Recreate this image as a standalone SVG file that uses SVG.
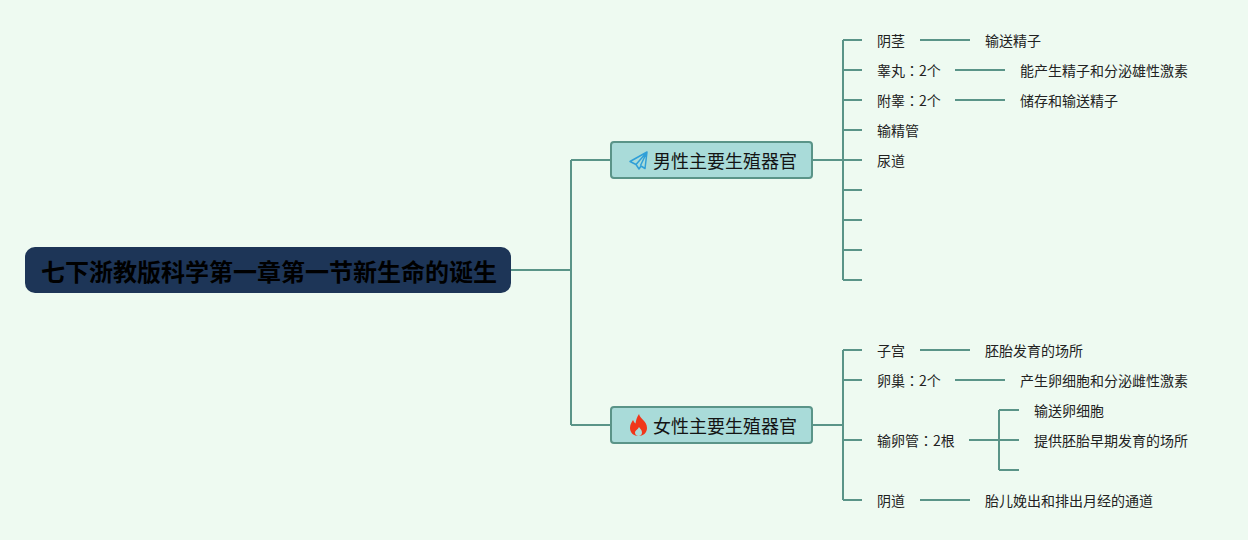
<svg xmlns="http://www.w3.org/2000/svg" width="1248" height="540" viewBox="0 0 1248 540">
<style>
text{font-family:"Noto Sans CJK SC","Liberation Sans",sans-serif;fill:#222}
.l{font-size:14px}
.m{font-size:18px;fill:#141414}
.r{font-size:24px;font-weight:700;fill:#000}
.k{font-family:"Noto Sans CJK TC",sans-serif}
.c{fill:none;stroke:#5a9488;stroke-width:2}
.b{fill:#a9dbd9;stroke:#5a9488;stroke-width:2}
</style>
<rect width="1248" height="540" fill="#eefaf1"/>
<g id="connectors">
<path class="c" d="M511 270H571M571 160V425M571 160H611M571 425H611"/>
<path class="c" d="M812 160H862M843 40V280M843 40H862M843 70H862M843 100H862M843 130H862M843 190H862M843 220H862M843 250H862M843 280H862"/>
<path class="c" d="M920 40H970M955 70H1005M955 100H1005"/>
<path class="c" d="M812 425H843M843 350V500M843 350H862M843 380H862M843 440H862M843 500H862"/>
<path class="c" d="M920 350H970M955 380H1005M969 440H1019M999 410V470M999 410H1019M999 470H1019M920 500H970"/>
</g>
<g id="root"><rect x="25" y="247" width="486" height="46" rx="10" fill="#1d3557"/><text class="r" x="41" y="281">七下浙教版科学第一章第一节新生命的诞生</text></g>
<g id="male"><rect class="b" x="611" y="142" width="201" height="36" rx="3"/>
<path d="M647 152L630 161.500L636 164.500L639 169L641 166L645 168.500Z M636 164.500L647 152L640.500 165.500" fill="none" stroke="#2f9fd8" stroke-width="1.500" stroke-linejoin="round"/>
<text class="m" x="653" y="168">男性主要生殖器官</text></g>
<g id="female"><rect class="b" x="611" y="407" width="201" height="36" rx="3"/>
<path d="M639 414C640 419 647 421 647 428C647 433 643 436 638.500 436C634 436 630 433 630 428C630 424 632 422 633 420C634 422 634.500 423 635.500 423.500C636 420 637 417 639 414Z" fill="#f0361a"/>
<path d="M639 427C640 429 642 430 642 432.500C642 434.500 640.500 436 638.500 436C636.500 436 635 434.500 635 432.500C635 430.500 638 429.500 639 427Z" fill="#a9dbd9"/>
<text class="m" x="653" y="433">女性主要生殖器官</text></g>
<g id="n1"><text class="l" x="877" y="46">阴茎</text></g>
<g id="n1a"><text class="l" x="985" y="46">输送精子</text></g>
<g id="n2"><text class="l" x="877" y="76">睾丸<tspan class="k">：</tspan>2个</text></g>
<g id="n2a"><text class="l" x="1020" y="76">能产生精子和分泌雄性激素</text></g>
<g id="n3"><text class="l" x="877" y="106">附睾<tspan class="k">：</tspan>2个</text></g>
<g id="n3a"><text class="l" x="1020" y="106">储存和输送精子</text></g>
<g id="n4"><text class="l" x="877" y="136">输精管</text></g>
<g id="n5"><text class="l" x="877" y="166">尿道</text></g>
<g id="f1"><text class="l" x="877" y="356">子宫</text></g>
<g id="f1a"><text class="l" x="985" y="356">胚胎发育的场所</text></g>
<g id="f2"><text class="l" x="877" y="386">卵巢<tspan class="k">：</tspan>2个</text></g>
<g id="f2a"><text class="l" x="1020" y="386">产生卵细胞和分泌雌性激素</text></g>
<g id="f3"><text class="l" x="877" y="446">输卵管<tspan class="k">：</tspan>2根</text></g>
<g id="f3a"><text class="l" x="1034" y="416">输送卵细胞</text></g>
<g id="f3b"><text class="l" x="1034" y="446">提供胚胎早期发育的场所</text></g>
<g id="f4"><text class="l" x="877" y="506">阴道</text></g>
<g id="f4a"><text class="l" x="985" y="506">胎儿娩出和排出月经的通道</text></g>
</svg>
